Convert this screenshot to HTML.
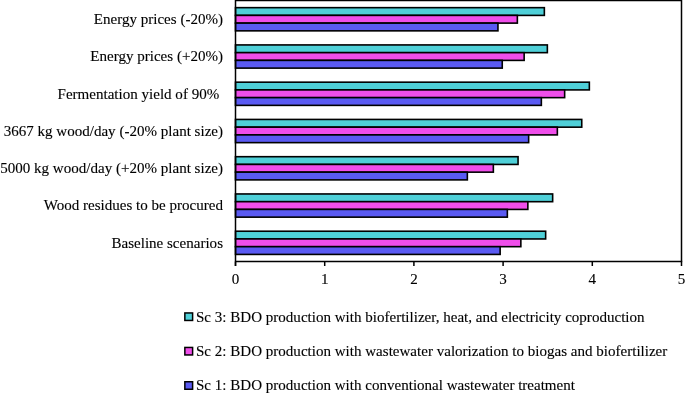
<!DOCTYPE html>
<html><head><meta charset="utf-8"><style>
html,body{margin:0;padding:0;background:#fff;}
svg{display:block;will-change:transform;}
text{font-family:"Liberation Serif",serif;font-size:15.06px;fill:#000;stroke:#000;stroke-width:0.12px;}
</style></head><body>
<svg width="685" height="395" viewBox="0 0 685 395">
<rect width="685" height="395" fill="#fff"/>
<rect x="235.50" y="7.66" width="308.85" height="7.73" fill="#4fd0d8" stroke="#000" stroke-width="1.6"/>
<rect x="235.50" y="15.39" width="281.85" height="7.73" fill="#ef4eea" stroke="#000" stroke-width="1.6"/>
<rect x="235.50" y="23.12" width="262.45" height="7.73" fill="#5a5af2" stroke="#000" stroke-width="1.6"/>
<text transform="translate(223.00,24.11) scale(1,1.025)" text-anchor="end">Energy prices (-20%)</text>
<rect x="235.50" y="44.93" width="311.85" height="7.73" fill="#4fd0d8" stroke="#000" stroke-width="1.6"/>
<rect x="235.50" y="52.66" width="288.65" height="7.73" fill="#ef4eea" stroke="#000" stroke-width="1.6"/>
<rect x="235.50" y="60.39" width="266.75" height="7.73" fill="#5a5af2" stroke="#000" stroke-width="1.6"/>
<text transform="translate(223.00,61.37) scale(1,1.025)" text-anchor="end">Energy prices (+20%)</text>
<rect x="235.50" y="82.18" width="353.85" height="7.73" fill="#4fd0d8" stroke="#000" stroke-width="1.6"/>
<rect x="235.50" y="89.91" width="329.15" height="7.73" fill="#ef4eea" stroke="#000" stroke-width="1.6"/>
<rect x="235.50" y="97.64" width="305.85" height="7.73" fill="#5a5af2" stroke="#000" stroke-width="1.6"/>
<text transform="translate(223.00,98.63) scale(1,1.025)" text-anchor="end">Fermentation yield of 90% </text>
<rect x="235.50" y="119.44" width="346.25" height="7.73" fill="#4fd0d8" stroke="#000" stroke-width="1.6"/>
<rect x="235.50" y="127.17" width="321.85" height="7.73" fill="#ef4eea" stroke="#000" stroke-width="1.6"/>
<rect x="235.50" y="134.91" width="293.15" height="7.73" fill="#5a5af2" stroke="#000" stroke-width="1.6"/>
<text transform="translate(223.00,135.89) scale(1,1.025)" text-anchor="end">3667 kg wood/day (-20% plant size)</text>
<rect x="235.50" y="156.70" width="282.55" height="7.73" fill="#4fd0d8" stroke="#000" stroke-width="1.6"/>
<rect x="235.50" y="164.43" width="257.85" height="7.73" fill="#ef4eea" stroke="#000" stroke-width="1.6"/>
<rect x="235.50" y="172.16" width="231.85" height="7.73" fill="#5a5af2" stroke="#000" stroke-width="1.6"/>
<text transform="translate(223.00,173.15) scale(1,1.025)" text-anchor="end">5000 kg wood/day (+20% plant size)</text>
<rect x="235.50" y="193.96" width="317.15" height="7.73" fill="#4fd0d8" stroke="#000" stroke-width="1.6"/>
<rect x="235.50" y="201.69" width="292.35" height="7.73" fill="#ef4eea" stroke="#000" stroke-width="1.6"/>
<rect x="235.50" y="209.42" width="271.85" height="7.73" fill="#5a5af2" stroke="#000" stroke-width="1.6"/>
<text transform="translate(223.00,210.41) scale(1,1.025)" text-anchor="end">Wood residues to be procured</text>
<rect x="235.50" y="231.22" width="310.15" height="7.73" fill="#4fd0d8" stroke="#000" stroke-width="1.6"/>
<rect x="235.50" y="238.95" width="285.35" height="7.73" fill="#ef4eea" stroke="#000" stroke-width="1.6"/>
<rect x="235.50" y="246.69" width="264.65" height="7.73" fill="#5a5af2" stroke="#000" stroke-width="1.6"/>
<text transform="translate(223.00,247.67) scale(1,1.025)" text-anchor="end">Baseline scenarios</text>
<path d="M235.50 0.5 H681.5 V261.45" fill="none" stroke="#000" stroke-width="1.5"/>
<path d="M235.50 0 V266" fill="none" stroke="#000" stroke-width="1.5"/>
<path d="M235.50 261.45 H682.2" fill="none" stroke="#000" stroke-width="1.5"/>
<path d="M235.50 261.45 V266" stroke="#000" stroke-width="1.5"/>
<text x="235.50" y="284.00" text-anchor="middle">0</text>
<path d="M324.70 261.45 V266" stroke="#000" stroke-width="1.5"/>
<text x="324.70" y="284.00" text-anchor="middle">1</text>
<path d="M413.90 261.45 V266" stroke="#000" stroke-width="1.5"/>
<text x="413.90" y="284.00" text-anchor="middle">2</text>
<path d="M503.10 261.45 V266" stroke="#000" stroke-width="1.5"/>
<text x="503.10" y="284.00" text-anchor="middle">3</text>
<path d="M592.30 261.45 V266" stroke="#000" stroke-width="1.5"/>
<text x="592.30" y="284.00" text-anchor="middle">4</text>
<path d="M681.50 261.45 V266" stroke="#000" stroke-width="1.5"/>
<text x="681.50" y="284.00" text-anchor="middle">5</text>
<rect x="184.85" y="312.95" width="7.75" height="7.5" fill="#4fd0d8" stroke="#000" stroke-width="1.5"/>
<text transform="translate(196.00,321.95) scale(1,1.025)" text-anchor="start">Sc 3: BDO production with biofertilizer, heat, and electricity coproduction</text>
<rect x="184.85" y="347.45" width="7.75" height="7.5" fill="#ef4eea" stroke="#000" stroke-width="1.5"/>
<text transform="translate(196.00,355.90) scale(1,1.025)" text-anchor="start">Sc 2: BDO production with wastewater valorization to biogas and biofertilizer</text>
<rect x="184.85" y="381.75" width="7.75" height="7.5" fill="#5a5af2" stroke="#000" stroke-width="1.5"/>
<text transform="translate(196.00,390.00) scale(1,1.025)" text-anchor="start">Sc 1: BDO production with conventional wastewater treatment</text>
</svg>
</body></html>
